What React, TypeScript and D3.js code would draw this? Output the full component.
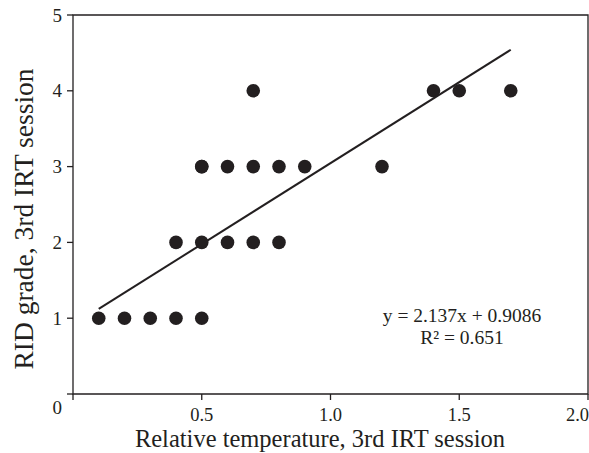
import React from "react";
import * as d3 from "d3";

const xValues = [0.1, 0.2, 0.3, 0.4, 0.5, 0.4, 0.5, 0.6, 0.7, 0.8, 0.5, 0.5, 0.6, 0.7, 0.8, 0.9, 1.2, 0.7, 1.4, 1.5, 1.7];
const yValues = [1, 1, 1, 1, 1, 2, 2, 2, 2, 2, 3, 3, 3, 3, 3, 3, 3, 4, 4, 4, 4];
const slope = 2.137;
const intercept = 0.9086;
const fitRange = [0.1, 1.7];
const xTicks = [0.5, 1.0, 1.5, 2.0];
const yTicks = [0, 1, 2, 3, 4, 5];
const equationLines = ["y = 2.137x + 0.9086", "R² = 0.651"];

const W = 589;
const H = 453;
const m = { left: 73, right: 1, top: 15, bottom: 59 };
const FONT = "'Liberation Serif', 'DejaVu Serif', serif";

export default function App() {
  const x = d3.scaleLinear().domain([0, 2]).range([m.left, W - m.right]);
  const y = d3.scaleLinear().domain([0, 5]).range([H - m.bottom, m.top]);
  const line = d3.line<number>().x((d) => x(d)).y((d) => y(slope * d + intercept));
  const x0 = x(0), x1 = x(2), y0 = y(0), y1 = y(5);
  const stroke = "#231f20";
  return (
    <svg width={W} height={H} style={{ position: "absolute", left: 0, top: 0, background: "#fff" }} fontFamily={FONT}>
      <rect x={0} y={0} width={W} height={H} fill="#fff" />
      {/* frame */}
      <path d={`M${x0},${y0}V${y1}H${x1}V${y0}Z`} fill="none" stroke={stroke} strokeWidth={1.3} />
      {/* y ticks */}
      {yTicks.map((t) => (
        <g key={"y" + t}>
          <line x1={x0 - 6} x2={x0} y1={y(t)} y2={y(t)} stroke={stroke} strokeWidth={1.3} />
          <text x={x0 - 11} y={y(t) + (t === 0 ? 13 : 0)} dy="0.35em" textAnchor="end" fontSize={19} fill={stroke}>
            {t}
          </text>
        </g>
      ))}
      {/* x ticks */}
      {[0, ...xTicks].map((t) => (
        <line key={"xt" + t} x1={x(t)} x2={x(t)} y1={y0} y2={y0 + 6} stroke={stroke} strokeWidth={1.3} />
      ))}
      {xTicks.map((t, i) => (
        <text
          key={"xl" + t}
          x={i === xTicks.length - 1 ? x(t) + 1 : x(t)}
          y={y0 + 27}
          textAnchor={i === xTicks.length - 1 ? "end" : "middle"}
          fontSize={18.5}
          fill={stroke}
        >
          {t.toFixed(1)}
        </text>
      ))}
      {/* regression line */}
      <path d={line(fitRange) || ""} fill="none" stroke={stroke} strokeWidth={2} />
      {/* points */}
      {xValues.map((v, i) => (
        <circle key={"p" + i} cx={x(v)} cy={y(yValues[i])} r={6.8} fill={stroke} />
      ))}
      {/* equation */}
      <text x={462} y={322} textAnchor="middle" fontSize={19.5} fill={stroke}>
        {equationLines[0]}
      </text>
      <text x={462} y={344} textAnchor="middle" fontSize={19.5} fill={stroke}>
        {equationLines[1]}
      </text>
      {/* axis titles */}
      <text x={320} y={447} textAnchor="middle" fontSize={24.5} fill={stroke}>
        Relative temperature, 3rd IRT session
      </text>
      <text transform={`translate(33, 219) rotate(-90)`} textAnchor="middle" fontSize={27.5} fill={stroke}>
        RID grade, 3rd IRT session
      </text>
    </svg>
  );
}
